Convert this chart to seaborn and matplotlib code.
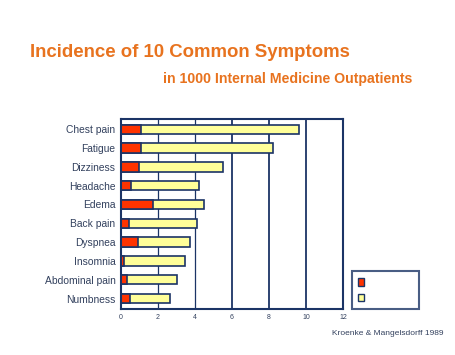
import numpy as np
import pandas as pd
import matplotlib
matplotlib.use('Agg')
import matplotlib.pyplot as plt
import seaborn as sns
from matplotlib.patches import Patch

# datos
symptoms = ['Chest pain', 'Fatigue', 'Dizziness', 'Headache', 'Edema',
            'Back pain', 'Dyspnea', 'Insomnia', 'Abdominal pain', 'Numbness']
red_part = [1.08, 1.08, 0.99, 0.56, 1.71, 0.43, 0.90, 0.16, 0.34, 0.49]
yellow_part = [8.54, 7.11, 4.50, 3.64, 2.78, 3.67, 2.84, 3.31, 2.69, 2.14]
x_ticks = [0, 2, 4, 6, 8, 10, 12]

df = pd.DataFrame({'Symptom': symptoms, 'Red': red_part, 'Yellow': yellow_part})
df['Total'] = df['Red'] + df['Yellow']

navy = '#1B3466'
red = '#FF3300'
yellow = '#FFFF99'
orange = '#E8731F'
label_col = '#33415E'

sns.set_style('white')
plt.rcParams['font.family'] = ['Liberation Sans', 'DejaVu Sans']

fig = plt.figure(figsize=(4.55, 3.55), dpi=100)
ax = fig.add_axes([0.266, 0.13, 0.488, 0.535])

# total primero (amarillo) y luego la parte roja encima
sns.barplot(data=df, x='Total', y='Symptom', orient='h', color=yellow,
            edgecolor=navy, linewidth=1.2, width=0.5, saturation=1, ax=ax)
sns.barplot(data=df, x='Red', y='Symptom', orient='h', color=red,
            edgecolor=navy, linewidth=1.2, width=0.5, saturation=1, ax=ax)

ax.set_xlim(0, 12)
ax.set_ylim(9.55, -0.55)
ax.set_xticks(x_ticks)
ax.set_xticklabels([str(t) for t in x_ticks], fontsize=5, color=label_col)
ax.tick_params(axis='y', labelsize=7.4, labelcolor=label_col, length=0, pad=4)
ax.tick_params(axis='x', length=0, pad=4)
ax.set_xlabel('')
ax.set_ylabel('')
for t in x_ticks[1:-1]:
    lw = 0.9 if t < 6 else 1.3
    ax.axvline(t, color=navy, linewidth=lw, zorder=0)
for s in ax.spines.values():
    s.set_visible(True)
    s.set_color(navy)
    s.set_linewidth(1.5)

handles = [Patch(facecolor=red, edgecolor=navy, linewidth=1),
           Patch(facecolor=yellow, edgecolor=navy, linewidth=1)]
leg = fig.legend(handles, ['               ', '               '],
                 loc='lower left', bbox_to_anchor=(0.774, 0.13),
                 borderaxespad=0,
                 handlelength=0.6, handleheight=0.8, fontsize=7,
                 frameon=True, fancybox=False, borderpad=0.6, labelspacing=0.6)
leg.get_frame().set_edgecolor(navy)
leg.get_frame().set_linewidth(1.5)

fig.text(0.066, 0.84, 'Incidence of 10 Common Symptoms', fontsize=13.4,
         fontweight='bold', color=orange, va='baseline')
fig.text(0.358, 0.765, 'in 1000 Internal Medicine Outpatients', fontsize=10.2,
         fontweight='bold', color=orange, va='baseline')
fig.text(0.73, 0.055, 'Kroenke & Mangelsdorff 1989', fontsize=6,
         color=label_col, va='baseline')

fig.savefig('out.png', dpi=100)
